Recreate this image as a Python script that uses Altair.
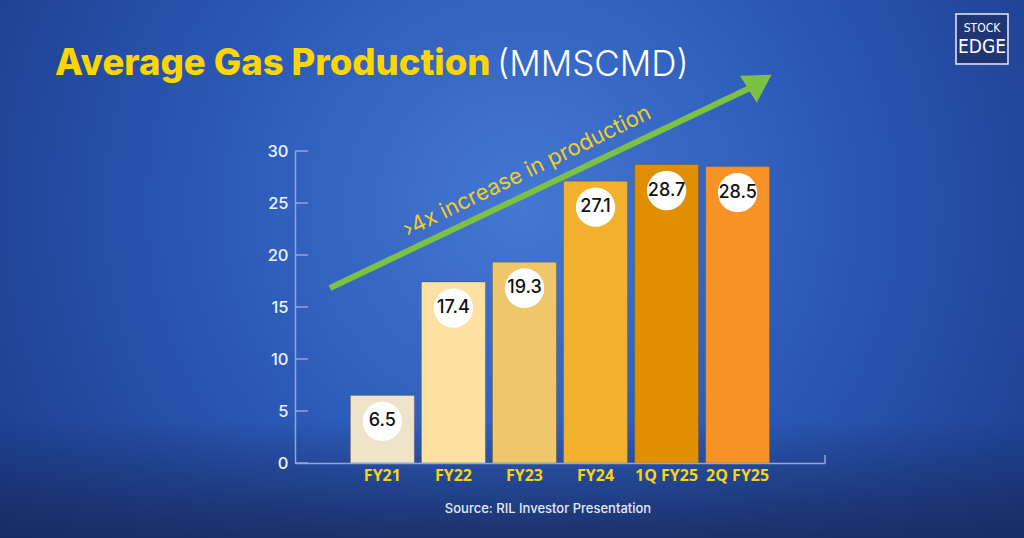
import altair as alt
import pandas as pd

categories = ["FY21", "FY22", "FY23", "FY24", "1Q FY25", "2Q FY25"]
values = [6.5, 17.4, 19.3, 27.1, 28.7, 28.5]
labels = ["6.5", "17.4", "19.3", "27.1", "28.7", "28.5"]
y_ticks = [0, 5, 10, 15, 20, 25, 30]
bar_colors = ["#EDE4CA", "#FCE1A1", "#EFC66B", "#F2B12C", "#E08E02", "#F79326"]

df = pd.DataFrame({"cat": categories, "value": values, "label": labels})
ticks_df = pd.DataFrame({"value": y_ticks})
one = alt.Data(values=[{"k": 1}])

W, H = 530, 312
OX, OY = 295, 151  # plot origin in page

xenc = alt.X("cat:N", sort=categories, title=None,
             scale=alt.Scale(paddingInner=0.1, paddingOuter=0.78),
             axis=alt.Axis(labelAngle=0, labelFontSize=16, labelFont="Open Sans",
                           labelFontWeight="bold", labelColor="#F6D31A", labelPadding=4,
                           tickSize=0, domainColor="#8FA6D6", domainWidth=1.5, zindex=1))
yscale = alt.Scale(domain=[0, 30], nice=False, zero=True)
yaxis = alt.Axis(values=y_ticks, labelFontSize=16.5, labelFont="Inter", labelFontWeight=500,
                 labelColor="#EEF2FB", labelPadding=7, tickSize=0, grid=False,
                 domainColor="#8FA6D6", domainWidth=1.5, zindex=1)

# background
bg = alt.Chart(one).mark_rect(fill={
    "gradient": "radial", "x1": 0.51, "y1": 0.44, "r1": 0, "x2": 0.51, "y2": 0.44, "r2": 0.72,
    "stops": [{"offset": 0, "color": "#4478D3"}, {"offset": 0.4, "color": "#2C5AB8"},
              {"offset": 1, "color": "#16327C"}]}).encode(
    x=alt.value(-OX), x2=alt.value(1024 - OX), y=alt.value(-OY), y2=alt.value(538 - OY))
bg2 = alt.Chart(one).mark_rect(fill={
    "gradient": "linear", "x1": 0, "y1": 0, "x2": 0, "y2": 1,
    "stops": [{"offset": 0, "color": "rgba(20,35,80,0)"}, {"offset": 0.78, "color": "rgba(20,35,80,0)"},
              {"offset": 1, "color": "rgba(22,38,85,0.75)"}]}).encode(
    x=alt.value(-OX), x2=alt.value(1024 - OX), y=alt.value(-OY), y2=alt.value(538 - OY))

bars = alt.Chart(df).mark_bar(stroke="rgba(90,60,0,0.25)", strokeWidth=1).encode(
    x=xenc,
    y=alt.Y("value:Q", scale=yscale, title=None, axis=yaxis),
    color=alt.Color("cat:N", sort=categories, scale=alt.Scale(domain=categories, range=bar_colors), legend=None),
)

tick_marks = alt.Chart(ticks_df).mark_rule(color="#8FA6D6", strokeWidth=1.5).encode(
    y=alt.Y("value:Q", scale=yscale, title=None, axis=yaxis), x=alt.value(0), x2=alt.value(13))
end_cap = alt.Chart(one).mark_rule(color="#8FA6D6", strokeWidth=1.5).encode(
    x=alt.value(W), y=alt.value(H - 8), y2=alt.value(H))

circles = alt.Chart(df).mark_circle(size=1550, color="white", opacity=1, yOffset=26).encode(
    x=alt.X("cat:N", sort=categories), y=alt.Y("value:Q", scale=yscale, title=None, axis=yaxis))
circle_text = alt.Chart(df).mark_text(yOffset=26, fontSize=18, font="Inter", fontWeight=500, color="#111111",
                                      baseline="middle", align="center").encode(
    x=alt.X("cat:N", sort=categories), y=alt.Y("value:Q", scale=yscale, title=None, axis=yaxis),
    text="label:N")

arrow_line = alt.Chart(one).mark_rule(color="#7CC242", strokeWidth=6).encode(
    x=alt.value(330 - OX), y=alt.value(288 - OY), x2=alt.value(752 - OX), y2=alt.value(87 - OY))
arrow_head = alt.Chart(one).mark_point(shape="triangle-up", filled=True, size=1000, angle=58,
                                       color="#7CC242", opacity=1).encode(
    x=alt.value(760 - OX), y=alt.value(82 - OY))
arrow_text = alt.Chart(one).mark_text(text="›4x increase in production", fontSize=22, font="Inter",
                                      color="#F2CF1E", angle=334, align="center", baseline="middle").encode(
    x=alt.value(527 - OX), y=alt.value(171 - OY))

title1 = alt.Chart(one).mark_text(text="Average Gas Production", fontSize=36.5, font="Inter",
                                  fontWeight=800, color="#FCD600", align="left", baseline="alphabetic").encode(
    x=alt.value(55 - OX), y=alt.value(75 - OY))
title2 = alt.Chart(one).mark_text(text="(MMSCMD)", fontSize=35, font="Inter", fontWeight=300,
                                  color="#FFFFFF", align="left", baseline="alphabetic").encode(
    x=alt.value(497 - OX), y=alt.value(76 - OY))

logo_box = alt.Chart(one).mark_rect(fill="#1F3574", stroke="#E8ECF5", strokeWidth=1.5).encode(
    x=alt.value(956 - OX), x2=alt.value(1008 - OX), y=alt.value(14 - OY), y2=alt.value(64 - OY))
logo1 = alt.Chart(one).mark_text(text="STOCK", fontSize=12, font="DejaVu Sans Condensed", color="white",
                                 align="center", baseline="middle").encode(
    x=alt.value(982 - OX), y=alt.value(28 - OY))
logo2 = alt.Chart(one).mark_text(text="EDGE", fontSize=19, font="DejaVu Sans Condensed", color="white",
                                 align="center", baseline="middle").encode(
    x=alt.value(982 - OX), y=alt.value(47 - OY))

source = alt.Chart(one).mark_text(text="Source: RIL Investor Presentation", fontSize=13, font="Inter",
                                  fontWeight=500, color="#E4E9F5", align="center", baseline="middle").encode(
    x=alt.value(548 - OX), y=alt.value(509 - OY))

chart = alt.layer(
    bg, bg2, bars, tick_marks, end_cap, circles, circle_text,
    arrow_line, arrow_head, arrow_text, title1, title2, logo_box, logo1, logo2, source
).resolve_scale(y="shared", x="shared").properties(
    width=W, height=H,
    autosize=alt.AutoSizeParams(type="none"),
    padding={"left": OX, "top": OY, "right": 1024 - OX - W, "bottom": 538 - OY - H},
    background="#1C3A88",
).configure_view(stroke=None)

chart.save("out.html", embed_options={"renderer": "svg", "actions": False})
